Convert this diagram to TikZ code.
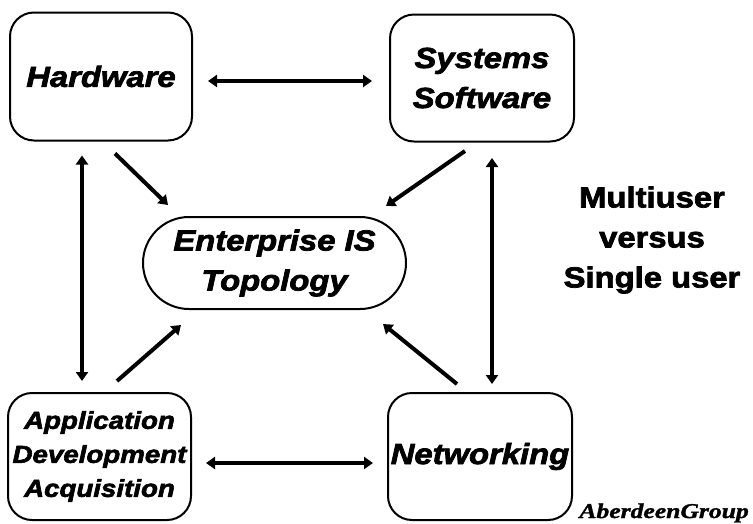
\documentclass[tikz,border=0pt]{standalone}
\usepackage{fontspec}
\setmainfont{Liberation Sans}
\newfontfamily\bxf{Liberation Sans}[FakeStretch=1.13,FakeBold=2.5]
\newfontfamily\agf{Liberation Serif}[FakeStretch=1.22,FakeBold=1.5]
\usetikzlibrary{arrows.meta}
\begin{document}
\begin{tikzpicture}[x=1pt,y=-1pt,
  box/.style={draw, line width=2pt, rounded corners=24pt, inner sep=0pt, align=center,
    font={\bxf\bfseries\itshape\fontsize{29}{40}\selectfont}},
  arr/.style={line width=4pt, -{Triangle[length=9pt,width=12pt]}},
  dbl/.style={line width=4pt, {Triangle[length=9pt,width=12pt]}-{Triangle[length=9pt,width=12pt]}},
  note/.style={inner sep=0pt, align=center, font={\bxf\bfseries\fontsize{29}{40}\selectfont}}]
\useasboundingbox (0,0) rectangle (753,523);
\node[box, minimum width=182pt, minimum height=128pt] (hw) at (101,76.5) {Hardware};
\node[box, minimum width=184pt, minimum height=127pt] (ss) at (482,78) {Systems\\Software};
\node[box, minimum width=183pt, minimum height=127pt,
  font={\bxf\bfseries\itshape\fontsize{24.5}{34}\selectfont}] (ad) at (99.5,456.5) {Application\\Development\\Acquisition};
\node[box, minimum width=184pt, minimum height=127pt] (net) at (480,456.5) {Networking};
\node[box, rounded corners=46pt, minimum width=263pt, minimum height=92pt] (ent) at (274.5,263) {Enterprise IS\\Topology};
\node[note] (mu) at (652,240) {Multiuser\\versus\\Single user};
\node[inner sep=0pt, anchor=base east, font={\agf\bfseries\itshape\fontsize{21}{25}\selectfont}] (ag) at (749,518) {AberdeenGroup};
% connectors
\draw[dbl] ([xshift=15pt,yshift=-4.5pt]hw.east) -- ([xshift=-17pt,yshift=-3pt]ss.west);
\draw[dbl] ([xshift=14pt,yshift=-6.5pt]ad.east) -- ([xshift=-14pt,yshift=-6.5pt]net.west);
\draw[dbl] ([xshift=-19pt,yshift=-14pt]hw.south) -- ([xshift=-17.5pt,yshift=11pt]ad.north);
\draw[dbl] ([xshift=10pt,yshift=-15.5pt]ss.south) -- ([xshift=12pt,yshift=8pt]net.north);
\draw[arr] ([xshift=14pt,yshift=-12pt]hw.south) -- ([xshift=26pt,yshift=11pt]ent.north west);
\draw[arr] ([xshift=-17pt,yshift=-8.5pt]ss.south) -- ([xshift=-21pt,yshift=10pt]ent.north east);
\draw[arr] ([xshift=17.5pt,yshift=11pt]ad.north) -- ([xshift=39pt,yshift=-15pt]ent.south west);
\draw[arr] ([xshift=-23pt,yshift=8pt]net.north) -- ([xshift=-24pt,yshift=-14pt]ent.south east);
\end{tikzpicture}
\end{document}
